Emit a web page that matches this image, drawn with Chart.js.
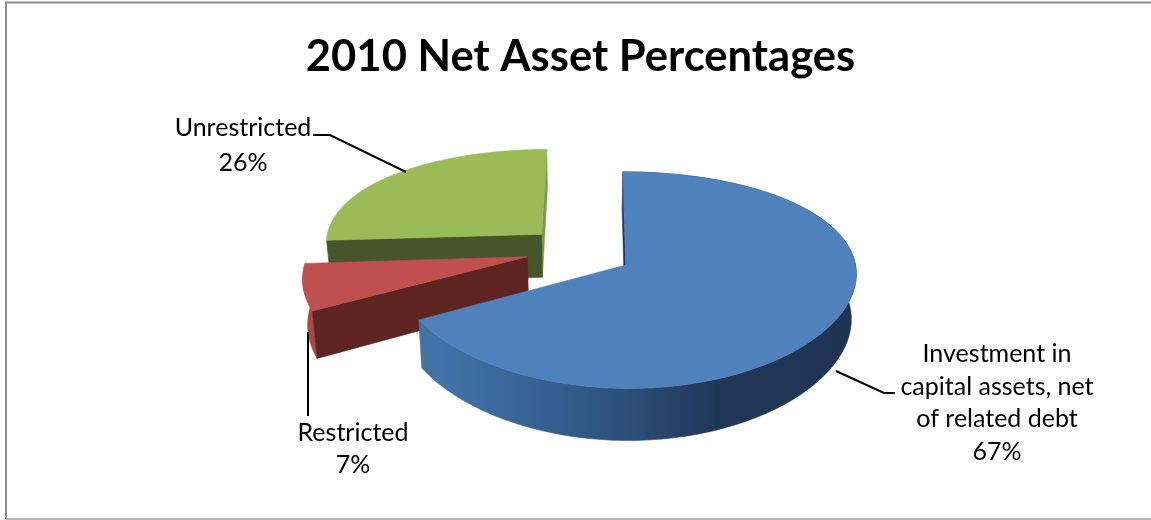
<!DOCTYPE html>
<html>
<head>
<meta charset="utf-8">
<title>2010 Net Asset Percentages</title>
<script src="https://cdn.jsdelivr.net/npm/chart.js@4"></script>
<style>
    html, body { margin: 0; padding: 0; background: #fff; overflow: hidden; }
    #box { position: relative; width: 1151px; height: 520px; }
    #grafico { position: absolute; left: 0; top: 0; }
</style>
</head>
<body>
<div id="box"><canvas id="grafico" width="1151" height="520"></canvas></div>
<script>
const categories = [
    ['Investment in', 'capital assets, net', 'of related debt'],
    ['Restricted'],
    ['Unrestricted']
];
const values = [67, 7, 26];
const topColors = ['#4f81bd', '#c0504d', '#9bbb59'];
const explode = [51, 56, 51];

// Perspective of the tilted pie
const HORIZON_Y = -498;
const FOCAL = 1665;
const DEPTH = 0.0587;
const TAPER = 0.018;

// Small per slice corrections, the original 3D view is not a pure perspective
const sliceFit = [
    { sx: 1, sy: 1, sk: 0, dx: 1, dy: -0.5 },
    { sx: 0.96, sy: 1, sk: -0.12, dx: 1, dy: -4 },
    { sx: 0.95, sy: 0.97, sk: -0.014, dx: -2, dy: -4 }
];

function project(el, fit, u, v) {
    const s = 1 / (1 - v / FOCAL);
    return {
        x: el.x + fit.dx + u * Math.sqrt(s),
        y: HORIZON_Y + (el.y - HORIZON_Y) * s + fit.dy
    };
}

// Same point on the lower rim of the slice
function drop(chartX, p) {
    return {
        x: p.x - (p.x - chartX) * TAPER,
        y: p.y + (p.y - HORIZON_Y) * DEPTH
    };
}

function polygon(ctx, pts, fill) {
    ctx.beginPath();
    pts.forEach((p, i) => (i ? ctx.lineTo(p.x, p.y) : ctx.moveTo(p.x, p.y)));
    ctx.closePath();
    ctx.fillStyle = fill;
    ctx.fill();
    ctx.strokeStyle = fill;
    ctx.lineWidth = 0.6;
    ctx.stroke();
}

// Apex and rim points of one arc element, in picture space
function sliceOutline(el, fit) {
    const mid = (el.startAngle + el.endAngle) / 2;
    const ou = Math.cos(mid) * el.options.offset;
    const ov = Math.sin(mid) * el.options.offset;
    const rim = [];
    const n = 80;
    for (let i = 0; i <= n; i++) {
        const a = el.startAngle + (el.endAngle - el.startAngle) * i / n;
        const rv = Math.sin(a) * el.outerRadius * fit.sy;
        rim.push(project(el, fit,
            ou + Math.cos(a) * el.outerRadius * fit.sx + rv * fit.sk,
            ov + rv));
    }
    return { apex: project(el, fit, ou, ov), rim };
}

function wall(ctx, el, pts, fill) {
    const low = pts.map(p => drop(el.x, p)).reverse();
    polygon(ctx, pts.concat(low), fill);
}

function blueRimFill(ctx) {
    const g = ctx.createLinearGradient(419, 0, 857, 0);
    g.addColorStop(0, '#44739f');
    g.addColorStop(0.05, '#4272a8');
    g.addColorStop(0.3, '#365f90');
    g.addColorStop(0.5, '#2b4c74');
    g.addColorStop(0.68, '#1f3757');
    g.addColorStop(1, '#1f3452');
    return g;
}

const pie3d = {
    id: 'pie3d',
    beforeDatasetsDraw(chart) {
        const ctx = chart.ctx;
        const arcs = chart.getDatasetMeta(0).data;
        const blue = sliceOutline(arcs[0], sliceFit[0]);
        const red = sliceOutline(arcs[1], sliceFit[1]);
        const green = sliceOutline(arcs[2], sliceFit[2]);
        ctx.save();

        // green, furthest back
        wall(ctx, arcs[2], [green.rim[green.rim.length - 1], green.apex], '#7d9a44');
        wall(ctx, arcs[2], [green.rim[0], green.apex], '#47562a');
        polygon(ctx, [green.apex].concat(green.rim), topColors[2]);

        // red
        wall(ctx, arcs[1], red.rim, '#ab4644');
        wall(ctx, arcs[1], [red.rim[0], red.apex], '#5e2420');
        polygon(ctx, [red.apex].concat(red.rim), topColors[1]);

        // blue, in front
        wall(ctx, arcs[0], [blue.rim[0], blue.apex], '#1d3a60');
        wall(ctx, arcs[0], blue.rim, blueRimFill(ctx));
        polygon(ctx, [blue.apex].concat(blue.rim), topColors[0]);

        ctx.restore();
        return false; // the slices are painted above, skip the flat pie
    },
    afterDraw(chart) {
        const ctx = chart.ctx;
        ctx.save();

        // chart frame
        ctx.strokeStyle = '#8c8c8c';
        ctx.lineWidth = 2;
        ctx.beginPath();
        ctx.moveTo(6, 519);
        ctx.lineTo(6, 2.5);
        ctx.lineTo(1151, 2.5);
        ctx.stroke();
        ctx.strokeStyle = '#b5b5b5';
        ctx.beginPath();
        ctx.moveTo(6, 519);
        ctx.lineTo(1151, 519);
        ctx.stroke();

        // leader lines
        const leaders = [
            [[836, 371], [884, 393], [895, 393]],
            [[308, 332], [308, 416]],
            [[313, 135], [330, 135], [406, 172]]
        ];
        ctx.strokeStyle = '#000';
        ctx.lineWidth = 2;
        leaders.forEach(line => {
            ctx.beginPath();
            line.forEach((p, i) => (i ? ctx.lineTo(p[0], p[1]) : ctx.moveTo(p[0], p[1])));
            ctx.stroke();
        });

        // data labels
        const spots = [[997, 354, 32.5], [353, 433, 32], [243, 128, 35]];
        ctx.fillStyle = '#000';
        ctx.font = '25px Lato';
        ctx.textAlign = 'center';
        ctx.textBaseline = 'middle';
        categories.forEach((lines, i) => {
            const [x, y, step] = spots[i];
            lines.concat(values[i] + '%').forEach((t, k) => ctx.fillText(t, x, y + k * step));
        });
        ctx.restore();
    }
};

new Chart(document.getElementById('grafico'), {
    type: 'pie',
    plugins: [pie3d],
    data: {
        labels: categories,
        datasets: [{
            data: values,
            backgroundColor: topColors,
            offset: explode,
            borderWidth: 0
        }]
    },
    options: {
        responsive: false,
        animation: false,
        radius: 228,
        layout: { padding: { left: 10, bottom: 100 } },
        plugins: {
            legend: { display: false },
            tooltip: { enabled: false },
            title: {
                display: true,
                text: '2010 Net Asset Percentages',
                color: '#000',
                font: { family: 'Lato', size: 43.6, weight: 'bold' },
                padding: { top: 31, bottom: 4 }
            }
        }
    }
});
</script>
</body>
</html>
